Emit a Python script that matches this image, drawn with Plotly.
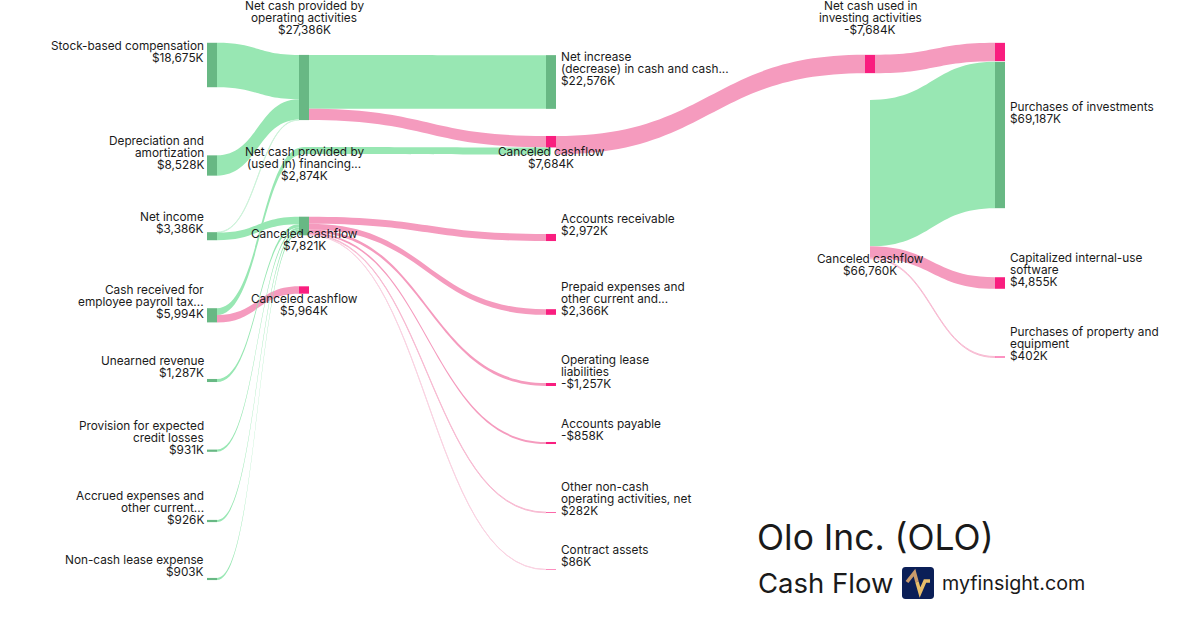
import plotly.graph_objects as go

W, H = 1200, 630

GREEN, PINK = "#98E7B3", "#F59BBE"
GREEN_THIN, PINK_THIN, PINK_MID = "#CDF3DA", "#FAD3E2", "#F8BCD3"
DGREEN, DPINK = "#68B884", "#F91E7F"
NONE = "rgba(0,0,0,0)"

# nodes (several "Canceled cashflow" / purchases rows are split so that
# the coloured part of each bar matches the picture)
node_names = [
    "Stock-based compensation", "Depreciation and amortization", "Net income",
    "Cash received for employee payroll tax", "Unearned revenue",
    "Provision for expected credit losses", "Accrued expenses", "Non-cash lease expense",
    "Net cash provided by operating activities", "Financing in", "Financing out",
    "Canceled cashflow 7821", "Canceled cashflow 5964",
    "Net increase", "Canceled 7684 in", "Canceled 7684 out", "Canceled 7684 financing",
    "Accounts receivable", "Prepaid expenses", "Operating lease liabilities",
    "Accounts payable", "Other non-cash", "Contract assets",
    "Net cash used in investing", "Canceled cashflow 66760",
    "Purchases (investing part)", "Purchases of investments",
    "Capitalized internal-use software", "Purchases of property and equipment",
]
node_x_px = [212] * 8 + [304, 309, 299, 304, 304, 551, 551, 551, 556] + [551] * 6 + [870, 865, 1000, 1000, 1000, 1000]
node_y_px = [65, 165.5, 236.2, 315.3, 380.5, 450.7, 521, 579,
             87.5, 150.5, 150.5, 226, 290,
             82, 141.7, 145.1, 151,
             237.5, 312, 384.5, 443, 512.5, 569.5,
             64, 179.4, 52, 135, 283, 357]
node_colors = [DGREEN] * 8 + [DGREEN, NONE, NONE, DGREEN, DPINK,
               DGREEN, DPINK, NONE, NONE] + [DPINK] * 6 + [DPINK, NONE, DPINK, DGREEN, DPINK, DPINK]

link_source = [0, 1, 2, 2, 3, 3, 4, 5, 6, 7, 8, 8, 10, 11, 11, 11, 11, 11, 11, 15, 23, 24, 24, 24]
link_target = [8, 8, 8, 11, 9, 12, 11, 11, 11, 11, 13, 14, 16, 17, 18, 19, 20, 21, 22, 23, 25, 26, 27, 28]
link_value = [18675, 8528, 183, 3203, 2874, 3090, 1287, 931, 926, 903, 22576, 4810, 2874,
              2972, 2366, 1257, 858, 282, 86, 7684, 7684, 61503, 4855, 402]
link_colors = [GREEN, GREEN, GREEN_THIN, GREEN, GREEN, PINK, GREEN, GREEN, GREEN, GREEN, GREEN, PINK, GREEN,
               PINK, PINK, PINK, PINK, PINK_MID, PINK_THIN, PINK, PINK, GREEN, PINK, PINK_MID]

# label blocks: text lines, x, y of the first line
right_labels = [
    (["Stock-based compensation", "$18,675K"], 46),
    (["Depreciation and", "amortization", "$8,528K"], 141),
    (["Net income", "$3,386K"], 217),
    (["Cash received for", "employee payroll tax...", "$5,994K"], 290),
    (["Unearned revenue", "$1,287K"], 361),
    (["Provision for expected", "credit losses", "$931K"], 426),
    (["Accrued expenses and", "other current...", "$926K"], 496),
    (["Non-cash lease expense", "$903K"], 560),
]
center_labels = [
    (["Net cash provided by", "operating activities", "$27,386K"], 304, 6),
    (["Net cash provided by", "(used in) financing...", "$2,874K"], 304, 152),
    (["Canceled cashflow", "$7,821K"], 304, 234),
    (["Canceled cashflow", "$5,964K"], 304, 299),
    (["Canceled cashflow", "$7,684K"], 551, 152),
    (["Net cash used in", "investing activities", "-$7,684K"], 870, 6),
    (["Canceled cashflow", "$66,760K"], 870, 259),
]
left_labels = [
    (["Net increase", "(decrease) in cash and cash...", "$22,576K"], 561, 57),
    (["Accounts receivable", "$2,972K"], 561, 219),
    (["Prepaid expenses and", "other current and...", "$2,366K"], 561, 287),
    (["Operating lease", "liabilities", "-$1,257K"], 561, 360),
    (["Accounts payable", "-$858K"], 561, 424),
    (["Other non-cash", "operating activities, net", "$282K"], 561, 487),
    (["Contract assets", "$86K"], 561, 550),
    (["Purchases of investments", "$69,187K"], 1010, 107),
    (["Capitalized internal-use", "software", "$4,855K"], 1010, 258),
    (["Purchases of property and", "equipment", "$402K"], 1010, 332),
]

FONT = "Inter, sans-serif"
TEXT = "#1a1a1a"
LABEL_SIZE = 11.8
LINE = 12


def px(x):
    return x / W


def py(y):
    return 1 - y / H


annotations = []


def add_text(text, x, y, anchor, size=LABEL_SIZE):
    annotations.append(dict(
        text=text, x=px(x), y=py(y), xref="paper", yref="paper", xanchor=anchor, yanchor="middle",
        showarrow=False, align=anchor, borderpad=0, borderwidth=0,
        font=dict(family=FONT, size=size, color=TEXT),
    ))


for lines, y0 in right_labels:
    for i, t in enumerate(lines):
        add_text(t, 203.5, y0 + i * LINE, "right")
for lines, x, y0 in center_labels:
    for i, t in enumerate(lines):
        add_text(t, x, y0 + i * LINE, "center")
for lines, x, y0 in left_labels:
    for i, t in enumerate(lines):
        add_text(t, x, y0 + i * LINE, "left")

add_text("Olo Inc. (OLO)", 757.3, 537, "left", 35.4)
add_text("Cash Flow", 757.5, 583, "left", 27.5)
add_text("myfinsight.com", 942, 583, "left", 19.7)

fig = go.Figure(go.Sankey(
    arrangement="fixed",
    hoverinfo="none",
    domain=dict(x=[0, 1], y=[0, 1]),
    node=dict(
        label=[""] * len(node_names),
        customdata=node_names,
        x=[px(v) for v in node_x_px],
        y=[v / H for v in node_y_px],
        color=node_colors,
        thickness=10,
        pad=24.86,
        line=dict(width=0),
    ),
    link=dict(source=link_source, target=link_target, value=link_value, color=link_colors,
              line=dict(width=0)),
))


def path(pts):
    return "M " + " L ".join(f"{px(x):.5f},{py(y):.5f}" for x, y in pts)


def rounded(x0, y0, x1, y1, r):
    return (f"M {px(x0 + r):.5f},{py(y0):.5f} L {px(x1 - r):.5f},{py(y0):.5f} "
            f"Q {px(x1):.5f},{py(y0):.5f} {px(x1):.5f},{py(y0 + r):.5f} "
            f"L {px(x1):.5f},{py(y1 - r):.5f} Q {px(x1):.5f},{py(y1):.5f} {px(x1 - r):.5f},{py(y1):.5f} "
            f"L {px(x0 + r):.5f},{py(y1):.5f} Q {px(x0):.5f},{py(y1):.5f} {px(x0):.5f},{py(y1 - r):.5f} "
            f"L {px(x0):.5f},{py(y0 + r):.5f} Q {px(x0):.5f},{py(y0):.5f} {px(x0 + r):.5f},{py(y0):.5f} Z")


fig.update_layout(
    width=W, height=H, margin=dict(l=0, r=0, t=0, b=0),
    paper_bgcolor="white", plot_bgcolor="white",
    font=dict(family=FONT),
    annotations=annotations,
    shapes=[
        dict(type="path", xref="paper", yref="paper", fillcolor="#0B1F57", line=dict(width=0),
             path=rounded(902, 567, 934, 599, 3.5)),
        dict(type="path", xref="paper", yref="paper", line=dict(color="#C99A6B", width=3.5),
             path=path([(907, 582), (914.5, 572.5), (917, 582)])),
        dict(type="path", xref="paper", yref="paper", line=dict(color="#E8BE6A", width=3.5),
             path=path([(917, 582), (920, 592.5), (925, 581), (930, 581)])),
    ],
)

fig.write_html("out.html", config=dict(displayModeBar=False),
               post_script="document.body.style.margin='0';document.documentElement.style.overflow='hidden';")
